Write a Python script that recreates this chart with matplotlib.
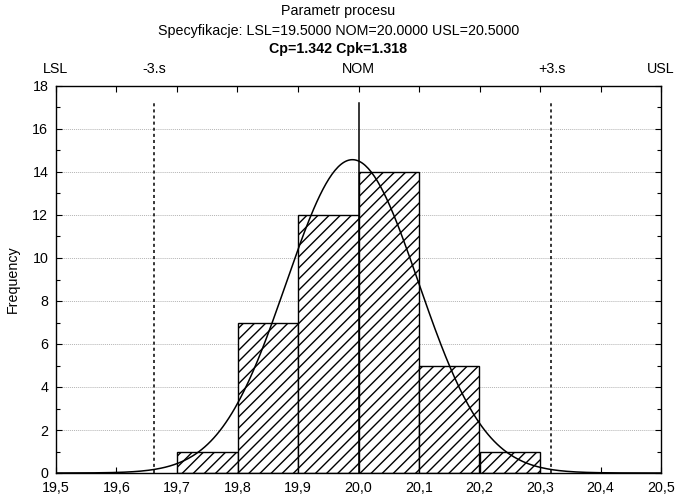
import numpy as np
import matplotlib
matplotlib.use("Agg")
import matplotlib.pyplot as plt
from matplotlib.ticker import MultipleLocator, FuncFormatter

plt.rcParams['font.family'] = ['Liberation Sans', 'DejaVu Sans']
plt.rcParams['hatch.linewidth'] = 1.0

# Data
bin_edges = [19.7, 19.8, 19.9, 20.0, 20.1, 20.2, 20.3]
counts = [1, 7, 12, 14, 5, 1]
mean_val = 19.99
sd_val = 0.1095
n_obs = 40
lsl, nom, usl = 19.5, 20.0, 20.5
minus3s, plus3s = 19.662, 20.319
spec_labels = ['LSL', '-3.s', 'NOM', '+3.s', 'USL']
titles = ['Parametr procesu',
          'Specyfikacje: LSL=19.5000 NOM=20.0000 USL=20.5000',
          'Cp=1.342 Cpk=1.318']

FS = 10.3
fig = plt.figure(figsize=(6.77, 5.0), dpi=100)
ax = fig.add_axes([56/677, 1-473/500, (661-56)/677, (473-86)/500])

widths = np.diff(bin_edges)
ax.bar(bin_edges[:-1], counts, width=widths, align='edge', facecolor='white',
       edgecolor='black', hatch='///', linewidth=1.0, zorder=2)

xs = np.linspace(lsl, usl, 400)
binw = widths[0]
ys = n_obs * binw * np.exp(-0.5 * ((xs - mean_val) / sd_val) ** 2) / (sd_val * np.sqrt(2 * np.pi))
ax.plot(xs, ys, color='black', linewidth=1.1, zorder=3)

vtop = 17.2
ax.plot([nom, nom], [0, vtop], color='black', linewidth=1.1, zorder=4)
ax.plot([minus3s, minus3s], [0, vtop], color='black', linewidth=1.1, linestyle=(0, (2, 2)), zorder=4)
ax.plot([plus3s, plus3s], [0, vtop], color='black', linewidth=1.1, linestyle=(0, (2, 2)), zorder=4)

ax.set_xlim(lsl, usl)
ax.set_ylim(0, 18)
ax.xaxis.set_major_locator(MultipleLocator(0.1))
ax.yaxis.set_major_locator(MultipleLocator(2))
ax.yaxis.set_minor_locator(MultipleLocator(1))
ax.xaxis.set_major_formatter(FuncFormatter(lambda v, p: f"{v:.1f}".replace('.', ',')))
ax.tick_params(axis='both', which='both', direction='in', top=True, right=True,
               labelsize=FS, length=4, width=0.8)
ax.tick_params(axis='y', which='minor', length=3)
ax.tick_params(axis='x', pad=5.5)
ax.tick_params(axis='y', pad=5.5)
for s in ax.spines.values():
    s.set_linewidth(1.0)
for g in range(2, 18, 2):
    ax.axhline(g, color='#b4b4b4', linewidth=0.7, linestyle=(0, (1, 1)), zorder=0)

ax.set_ylabel('Frequency', fontsize=FS, labelpad=9)

for xv, lab in zip([lsl, minus3s, nom, plus3s, usl], spec_labels):
    ax.text(xv, 18.45, lab, ha='center', va='bottom', fontsize=FS, transform=ax.transData)

fig.text(0.5, 1-11/500, titles[0], ha='center', va='center', fontsize=FS)
fig.text(0.5, 1-31/500, titles[1], ha='center', va='center', fontsize=FS)
fig.text(0.5, 1-49/500, titles[2], ha='center', va='center', fontsize=FS, fontweight='bold')

fig.savefig('out.png', dpi=100)
